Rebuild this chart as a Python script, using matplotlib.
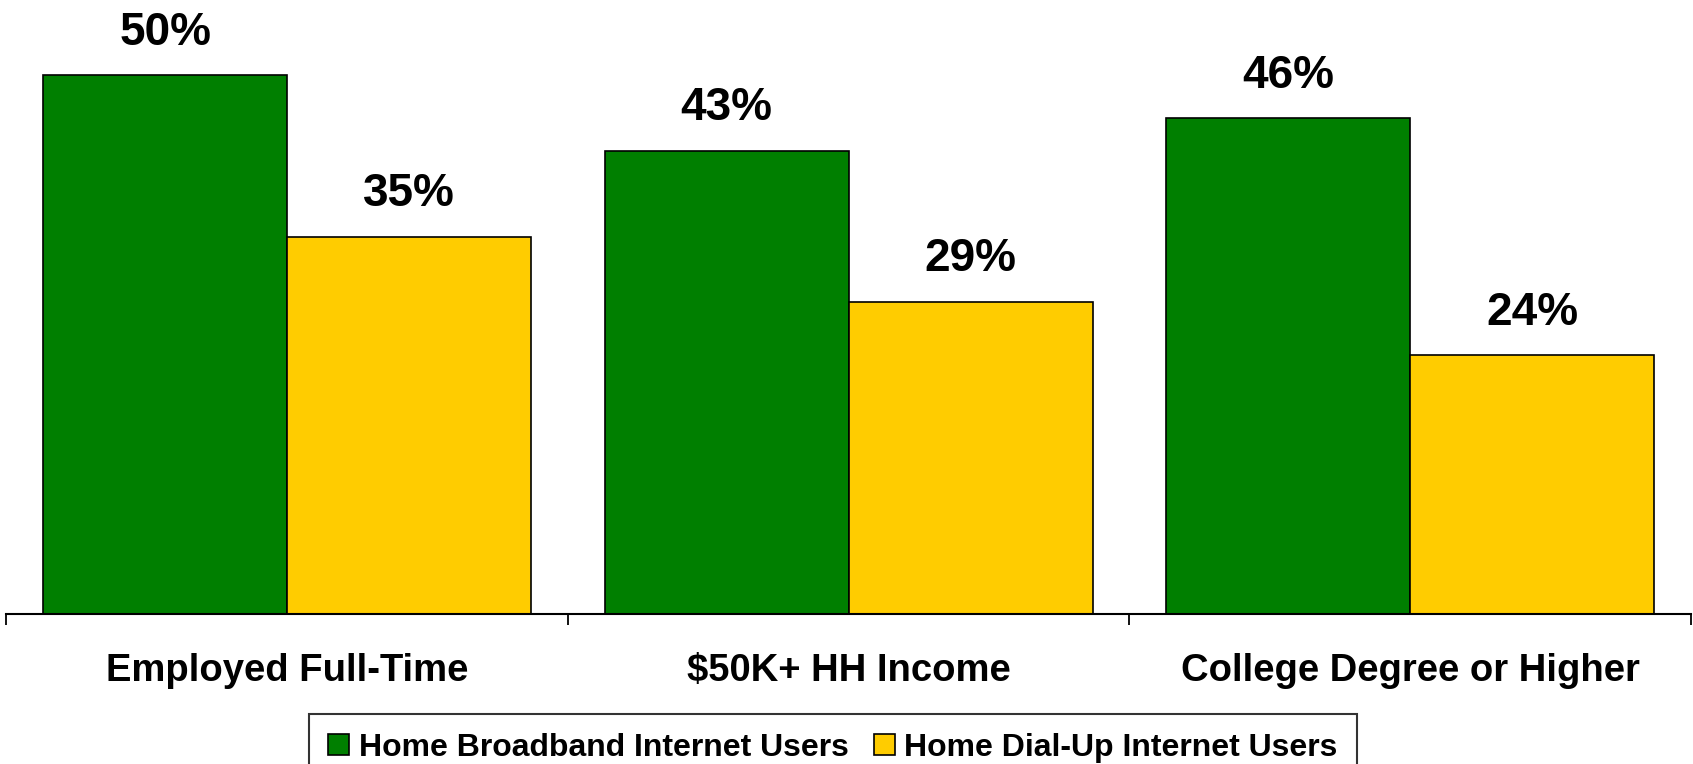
import numpy as np
import matplotlib
matplotlib.use("Agg")
import matplotlib.pyplot as plt

plt.rcParams['font.family'] = ['Liberation Sans', 'DejaVu Sans']
plt.rcParams['font.weight'] = 'bold'

categories = ["Employed Full-Time", "$50K+ HH Income", "College Degree or Higher"]
broadband = [50, 43, 46]
dialup = [35, 29, 24]
series_names = ["Home Broadband Internet Users", "Home Dial-Up Internet Users"]

green = "#007F00"
yellow = "#FFCC00"

fig = plt.figure(figsize=(16.93, 7.64), dpi=100)
ax = fig.add_axes([0.0038, 0.1963, 0.9949, 0.8037])

x = np.arange(len(categories))
w = 0.4346
b1 = ax.bar(x - w / 2, broadband, w, color=green, edgecolor="black", linewidth=1.2,
            label=series_names[0])
b2 = ax.bar(x + w / 2, dialup, w, color=yellow, edgecolor="black", linewidth=1.2,
            label=series_names[1])

# value labels above the bars
for bars, vals in ((b1, broadband), (b2, dialup)):
    for r, v in zip(bars, vals):
        ax.annotate(f"{v}%", (r.get_x() + r.get_width() / 2, r.get_height()),
                    xytext=(0, 22), textcoords="offset points",
                    ha="center", va="baseline", fontsize=33, fontweight="bold")

ax.set_xlim(-0.5, len(categories) - 0.5)
ax.set_ylim(0, 57)

for s in ("top", "right", "left"):
    ax.spines[s].set_visible(False)
ax.spines["bottom"].set_linewidth(1.5)
ax.set_yticks([])

# category names in the middle, tick marks on the borders
ax.set_xticks(x)
ax.set_xticklabels(categories, fontsize=27.5, fontweight="bold")
ax.tick_params(axis="x", which="major", length=0, pad=28)
ax.set_xticks(np.arange(len(categories) + 1) - 0.5, minor=True)
ax.tick_params(axis="x", which="minor", length=8, width=1.3, direction="out")

leg = fig.legend(handles=[b1, b2], loc="upper center", bbox_to_anchor=(0.492, 0.066),
                 ncol=2, frameon=True, fancybox=False, borderaxespad=0,
                 edgecolor="black", handlelength=0.65, handleheight=0.65,
                 handletextpad=0.3, columnspacing=0.8, borderpad=0.6,
                 prop={"weight": "bold", "size": 23})
leg.get_frame().set_linewidth(1.5)

fig.savefig("out.png", dpi=100)
